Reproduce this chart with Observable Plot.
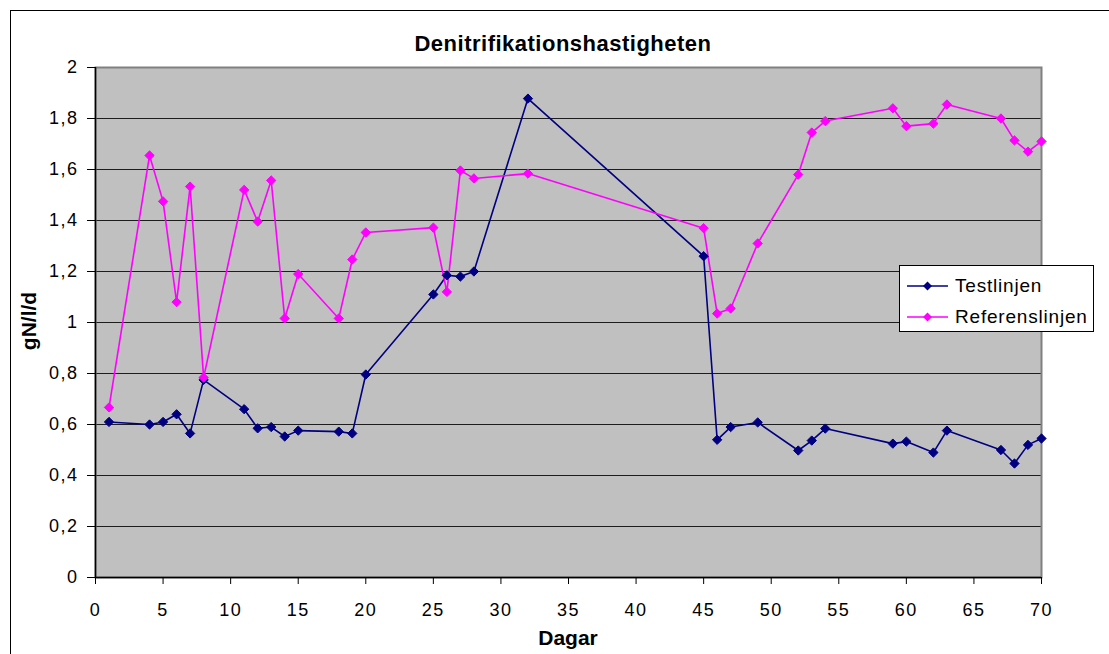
<!DOCTYPE html>
<html>
<head>
<meta charset="utf-8">
<script src="https://cdn.jsdelivr.net/npm/d3@7"></script>
<script src="https://cdn.jsdelivr.net/npm/@observablehq/plot@0.6"></script>
<style>
  body { margin: 0; background: #fff; font-family: "Liberation Sans", Arial, sans-serif; }
  #wrap { position: relative; width: 1109px; height: 654px; overflow: hidden; }
  #outer { position: absolute; left: 10px; top: 10px; width: 1200px; height: 800px; border-left: 1px solid #000; border-top: 1px solid #000; }
  #title { position: absolute; left: 363px; width: 400px; top: 31px; text-align: center; font-weight: bold; font-size: 22px; letter-spacing: 0.5px; line-height: 26px; }
  #xlabel { position: absolute; left: 468px; width: 200px; top: 626px; text-align: center; font-weight: bold; font-size: 21px; line-height: 24px; }
  #ylabel { position: absolute; left: 29px; top: 321px; transform: translate(-50%, -50%) rotate(-90deg); font-weight: bold; font-size: 21px; line-height: 24px; white-space: nowrap; }
  #legend { position: absolute; left: 899px; top: 265px; width: 193px; height: 65px; background: #fff; border: 1px solid #000; font-size: 19px; letter-spacing: 0.8px; }
  .lg { position: absolute; left: 7px; height: 24px; display: flex; align-items: center; }
  .lg svg { margin-right: 7px; }
  #plot { position: absolute; left: 0; top: 0; }
  #plot svg text { letter-spacing: 1.5px; }
</style>
</head>
<body>
<div id="wrap">
  <div id="outer"></div>
  <div id="plot"></div>
  <div id="title">Denitrifikationshastigheten</div>
  <div id="ylabel">gN/l/d</div>
  <div id="xlabel">Dagar</div>
  <div id="legend"></div>
</div>
<script>
const days = [1,4,5,6,7,8,11,12,13,14,15,18,19,20,25,26,27,28,32,45,46,47,49,52,53,54,59,60,62,63,67,68,69,70];
const testlinjen = [0.61,0.60,0.61,0.64,0.565,0.775,0.66,0.585,0.59,0.553,0.576,0.572,0.565,0.796,1.11,1.185,1.18,1.20,1.878,1.26,0.54,0.59,0.608,0.498,0.537,0.584,0.525,0.533,0.49,0.576,0.50,0.447,0.52,0.545];
const referenslinjen = [0.667,1.655,1.475,1.08,1.533,0.784,1.52,1.396,1.557,1.016,1.19,1.016,1.247,1.353,1.372,1.12,1.596,1.565,1.584,1.37,1.035,1.055,1.31,1.58,1.745,1.79,1.84,1.77,1.78,1.855,1.80,1.714,1.67,1.71];
const seriesNames = ["Testlinjen", "Referenslinjen"];
const seriesColors = ["#000080", "#ff00ff"];
const xTicks = [0,5,10,15,20,25,30,35,40,45,50,55,60,65,70];
const yTicks = [0,0.2,0.4,0.6,0.8,1,1.2,1.4,1.6,1.8,2];

const data = [];
days.forEach((d, i) => {
  data.push({day: d, value: testlinjen[i], series: seriesNames[0]});
});
days.forEach((d, i) => {
  data.push({day: d, value: referenslinjen[i], series: seriesNames[1]});
});

const fmt = v => String(+v.toFixed(1)).replace(".", ",");

const chart = Plot.plot({
  width: 1109,
  height: 654,
  marginLeft: 95,
  marginRight: 68,
  marginTop: 67,
  marginBottom: 77,
  style: {fontFamily: "Liberation Sans, Arial, sans-serif", fontSize: "18px", background: "transparent", color: "#000"},
  x: {domain: [0, 70], label: null},
  y: {domain: [0, 2], label: null},
  color: {domain: seriesNames, range: seriesColors},
  marks: [
    Plot.frame({fill: "#c0c0c0", stroke: null}),
    Plot.ruleY(yTicks.filter(v => v > 0 && v < 2), {stroke: "#000", strokeWidth: 1, strokeOpacity: 0.85}),
    Plot.frame({stroke: "#808080", strokeWidth: 2}),
    Plot.axisX({ticks: xTicks, tickFormat: d => String(d), tickSize: 7, tickPadding: 19, stroke: "#000", fontSize: 18}),
    Plot.axisY({ticks: yTicks, tickFormat: fmt, tickSize: 8, tickPadding: 9, stroke: "#000", fontSize: 18}),
    Plot.ruleX([0], {stroke: "#000", strokeWidth: 1.5}),
    Plot.ruleY([0], {stroke: "#000", strokeWidth: 1.5}),
    Plot.line(data, {x: "day", y: "value", z: "series", stroke: d => d.series, strokeWidth: 1.6}),
    Plot.dot(data, {x: "day", y: "value", fill: d => d.series, stroke: d => d.series, symbol: "diamond2", r: 4.2, strokeWidth: 1})
  ]
});
document.getElementById("plot").appendChild(chart);

const legend = document.getElementById("legend");
seriesNames.forEach((name, i) => {
  const row = document.createElement("div");
  row.className = "lg";
  row.style.top = (8 + i * 31) + "px";
  const c = seriesColors[i];
  row.innerHTML = `<svg width="41" height="14"><line x1="0" y1="7" x2="41" y2="7" stroke="${c}" stroke-width="1.6"/><path d="M20.5,2.5 L25,7 L20.5,11.5 L16,7 Z" fill="${c}"/></svg><span>${name}</span>`;
  legend.appendChild(row);
});
</script>
</body>
</html>
